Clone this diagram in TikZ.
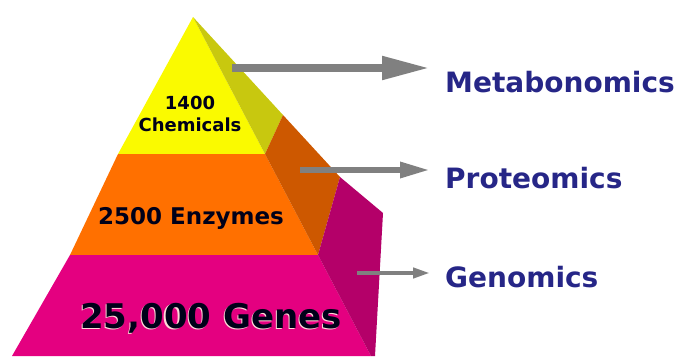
\documentclass[tikz,border=0pt]{standalone}
\usepackage{fontspec}
\setmainfont{DejaVu Sans}
\usetikzlibrary{arrows.meta,positioning,calc}
\definecolor{chemYellow}{RGB}{250,250,0}
\definecolor{chemSide}{RGB}{200,200,15}
\definecolor{enzOrange}{RGB}{255,112,0}
\definecolor{enzSide}{RGB}{205,88,0}
\definecolor{genePink}{RGB}{228,0,128}
\definecolor{geneSide}{RGB}{180,0,105}
\definecolor{omicBlue}{RGB}{38,38,135}
\definecolor{arrowGray}{RGB}{128,128,128}

\begin{document}
\begin{tikzpicture}[
x=1pt, y=-1pt,
layer/.style={draw=none},
lvltext/.style={inner sep=0pt, align=center, text=black!90!blue},
omic/.style={anchor=west, inner sep=0pt, text=omicBlue, font=\fontsize{28}{30}\selectfont\bfseries},
arrow/.style={draw=arrowGray, shorten >=15pt}
]
\useasboundingbox (0,0) rectangle (677,356);

% pyramid corners
\coordinate (apex) at (193,17);
\coordinate (yl) at (118,154);
\coordinate (yr) at (265,154);
\coordinate (ol) at (70,255);
\coordinate (or) at (318,255);
\coordinate (pl) at (12,356);
\coordinate (pr) at (371,356);
\coordinate (b1) at (283,115);
\coordinate (b2) at (340,177);
\coordinate (b3) at (383,213);
\coordinate (b4) at (375,356);

% front faces
\fill[chemYellow] (apex) -- (yr) -- (yl) -- cycle;
\fill[enzOrange] (yl) -- (yr) -- (or) -- (ol) -- cycle;
\fill[genePink] (ol) -- (or) -- (pr) -- (pl) -- cycle;

% side faces
\fill[chemSide] (apex) -- (b1) -- (yr) -- cycle;
\fill[enzSide] (yr) -- (b1) -- (b2) -- (or) -- cycle;
\fill[geneSide] (or) -- (b2) -- (b3) -- (b4) -- (pr) -- cycle;

% level labels
\node[lvltext, font=\fontsize{18}{22}\selectfont\bfseries] (chem) at (190,114) {1400\\Chemicals};
\node[lvltext, font=\fontsize{23}{25}\selectfont\bfseries] (enz) at (191,218) {2500 Enzymes};
\node[lvltext, text=pink!60!white, font=\fontsize{34}{36}\selectfont\bfseries] (geneshadow) at (209.8,319.5) {25,000 Genes};
\node[lvltext, font=\fontsize{34}{36}\selectfont\bfseries] (genes) at (211,318) {25,000 Genes};

% omics labels
\node[omic] (met) at (445,82) {Metabonomics};
\node[omic] (prot) at (445,178) {Proteomics};
\node[omic] (gen) at (445,277) {Genomics};

% arrows
\coordinate (m0) at (232,68);
\coordinate (p0) at (300,170);
\coordinate (g0) at (357,273);
\draw[arrow, line width=8pt, -{Triangle[length=48pt,width=22pt]}] (m0) -- (m0 -| met.west);
\draw[arrow, line width=6pt, -{Triangle[length=30pt,width=15pt]}] (p0) -- (p0 -| prot.west);
\draw[arrow, line width=4pt, -{Triangle[length=17pt,width=10pt]}] (g0) -- (g0 -| gen.west);
\end{tikzpicture}
\end{document}
